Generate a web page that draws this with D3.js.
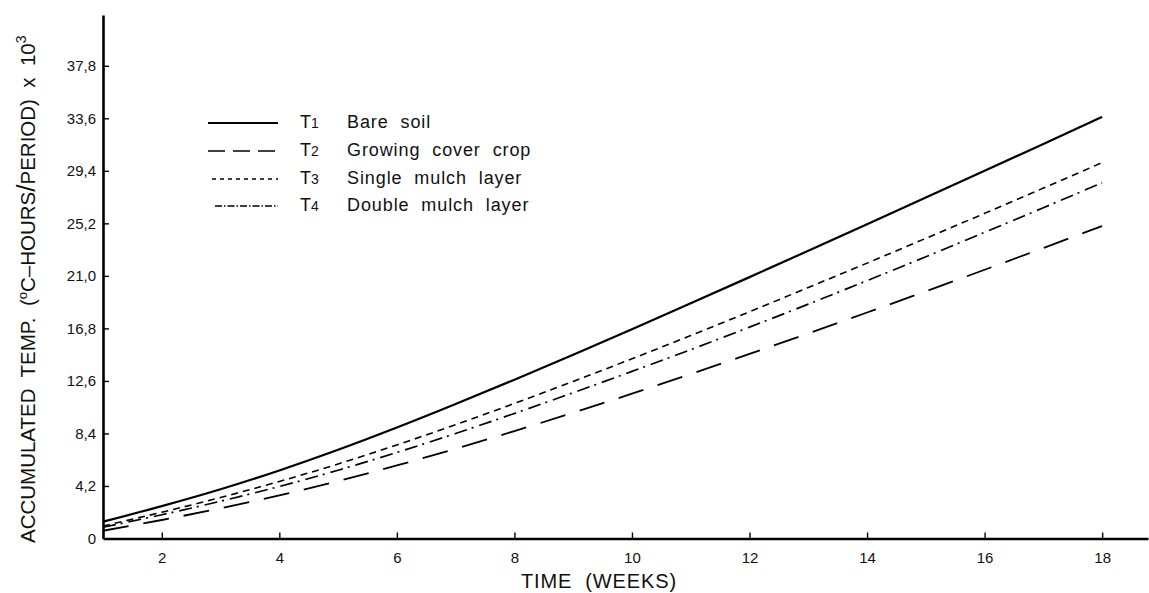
<!DOCTYPE html>
<html>
<head>
<meta charset="utf-8">
<script src="https://cdn.jsdelivr.net/npm/d3@7"></script>
<style>
  html, body { margin: 0; padding: 0; background: #fff; }
  svg { display: block; font-family: "Liberation Sans", Arial, Helvetica, sans-serif; }
</style>
</head>
<body>
<svg id="chart" width="1149" height="593"></svg>
<script>
// ---- data ----
const weeks = [1,2,3,4,5,6,7,8,9,10,11,12,13,14,15,16,17,18];
const t1BareSoil   = [1.34,2.59,3.94,5.44,7.09,8.87,10.75,12.70,14.70,16.74,18.81,20.90,23.01,25.13,27.26,29.40,31.55,33.71];
const t2CoverCrop  = [0.62,1.48,2.42,3.45,4.59,5.84,7.18,8.59,10.06,11.58,13.15,14.76,16.40,18.07,19.77,21.49,23.23,24.99];
const t3SingleMulch= [1.00,2.10,3.28,4.56,5.96,7.48,9.10,10.80,12.56,14.37,16.23,18.13,20.07,22.02,24.00,26.00,28.02,30.06];
const t4DoubleMulch= [0.90,1.90,2.98,4.16,5.46,6.88,8.40,10.00,11.66,13.36,15.10,16.90,18.74,20.62,22.53,24.48,26.45,28.45];
const seriesCodes  = ["T1","T2","T3","T4"];
const seriesNames  = ["Bare soil","Growing cover crop","Single mulch layer","Double mulch layer"];
const xTickValues  = [2,4,6,8,10,12,14,16,18];
const yTickValues  = [0,4.2,8.4,12.6,16.8,21.0,25.2,29.4,33.6,37.8];
const yTickLabels  = ["0","4,2","8,4","12,6","16,8","21,0","25,2","29,4","33,6","37,8"];

// ---- layout / styles ----
const svg = d3.select("#chart");
const x = d3.scaleLinear().domain([1, 18.78]).range([103, 1148]);
const y = d3.scaleLinear().domain([0, 41.86]).range([538.5, 15]);

const styles = [
  {dash: null,          width: 2.2, legendDash: null},
  {dash: "26,15",       width: 1.8, legendDash: "17,8"},
  {dash: "7,5",         width: 1.6, legendDash: "4,4"},
  {dash: "13,5,2,6",    width: 1.7, legendDash: "7,2,1.5,2"}
];
const allSeries = [t1BareSoil, t2CoverCrop, t3SingleMulch, t4DoubleMulch];

// ---- curves ----
const line = d3.line()
  .x((d,i) => x(weeks[i]))
  .y(d => y(d))
  .curve(d3.curveMonotoneX);

allSeries.forEach((vals, k) => {
  svg.append("path")
    .attr("d", line(vals))
    .attr("fill", "none")
    .attr("stroke", "#000")
    .attr("stroke-width", styles[k].width)
    .attr("stroke-dasharray", styles[k].dash);
});

// ---- axes ----
const yAxis = d3.axisLeft(y)
  .tickValues(yTickValues)
  .tickFormat((d,i) => yTickLabels[i])
  .tickSizeInner(-6).tickSizeOuter(0).tickPadding(7);
const gy = svg.append("g").attr("transform", "translate(103,0)").call(yAxis);

const xAxis = d3.axisBottom(x)
  .tickValues(xTickValues)
  .tickFormat(d3.format("d"))
  .tickSizeInner(-6).tickSizeOuter(0).tickPadding(14);
const gx = svg.append("g").attr("transform", "translate(0,538.5)").call(xAxis);

[gx, gy].forEach(g => {
  g.select(".domain").attr("stroke", "#000").attr("stroke-width", 2.6);
  g.selectAll(".tick line").attr("stroke", "#000").attr("stroke-width", 1.4);
  g.selectAll(".tick text").attr("fill", "#111").style("font-size", "15px")
    .style("font-family", "'Liberation Sans', Arial, sans-serif");
});
gy.selectAll(".tick line").filter(d => d === 0).remove();

// ---- axis titles ----
svg.append("text")
  .attr("x", 599).attr("y", 588)
  .attr("text-anchor", "middle")
  .style("font-size", "20px")
  .style("letter-spacing", "0.9px")
  .attr("fill", "#111")
  .attr("xml:space", "preserve")
  .text("TIME  (WEEKS)");

const yt = svg.append("text")
  .attr("transform", "translate(35,543) rotate(-90)")
  .attr("text-anchor", "start")
  .style("font-size", "20.5px")
  .attr("fill", "#111")
  .attr("xml:space", "preserve");
yt.append("tspan").text("ACCUMULATED  TEMP.  (");
yt.append("tspan").attr("dy", -8).style("font-size", "13px").text("o");
yt.append("tspan").attr("dy", 8).text("C\u2013HOURS");
yt.append("tspan").style("font-size", "26px").text("/");
yt.append("tspan").text("PERIOD)  x  10");
yt.append("tspan").attr("dy", -9).style("font-size", "14px").text("3");

// ---- legend ----
const legendY = [123, 151, 179, 206];
const lg = svg.append("g");
seriesCodes.forEach((code, k) => {
  lg.append("line")
    .attr("x1", k === 0 ? 208 : (k === 1 ? 208 : (k === 2 ? 212 : 215)))
    .attr("x2", 278)
    .attr("y1", legendY[k]).attr("y2", legendY[k])
    .attr("stroke", "#000")
    .attr("stroke-width", styles[k].width - 0.2)
    .attr("stroke-dasharray", styles[k].legendDash);
  const t = lg.append("text")
    .attr("x", 300).attr("y", legendY[k] + 5)
    .attr("fill", "#111")
    .style("font-size", "18px");
  t.append("tspan").text(code[0]);
  t.append("tspan").style("font-size", "14px").text(code.slice(1));
  lg.append("text")
    .attr("x", 347).attr("y", legendY[k] + 5)
    .attr("fill", "#111")
    .style("font-size", "18px")
    .style("letter-spacing", "0.9px")
    .style("word-spacing", "6px")
    .text(seriesNames[k]);
});
</script>
</body>
</html>
